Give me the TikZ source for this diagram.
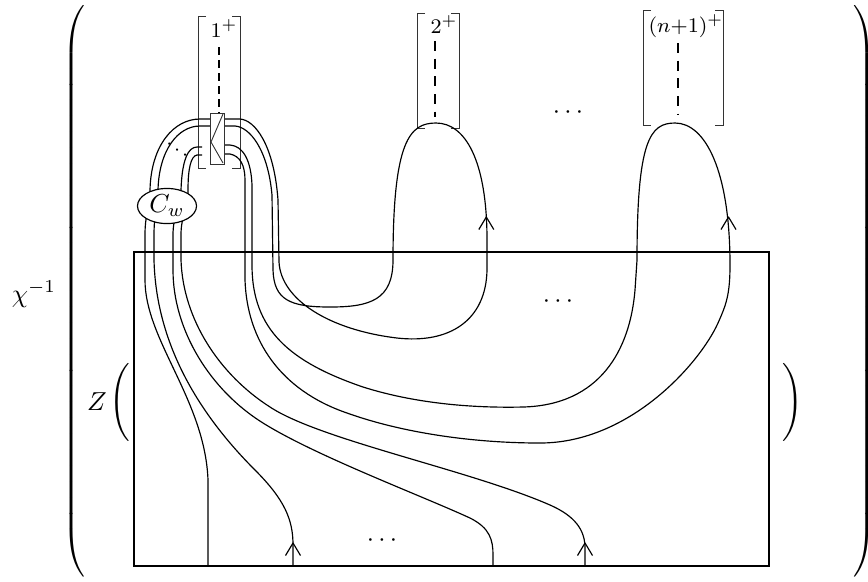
\documentclass[tikz,border=0pt]{standalone}
\usetikzlibrary{shapes.geometric}
\tikzset{
  strand/.style={line width=0.45pt, line join=round},
  frame/.style={line width=1.05pt},
  brkline/.style={line width=0.35pt, black!80},
  dsh/.style={line width=0.45pt, dash pattern=on 3.8pt off 3pt},
  dshsmall/.style={line width=0.45pt, dash pattern=on 3pt off 2pt},
  lbl/.style={font=\footnotesize, inner sep=0pt, anchor=base},
  dotsn/.style={inner sep=0pt, anchor=base},
  bigdelim/.style={inner sep=0pt},
}
\newcommand\mybrk[4]{%
  \draw[brkline] (#1+8,#3) -- (#1,#3) -- (#1,#4) -- (#1+8,#4);
  \draw[brkline] (#2-8,#3) -- (#2,#3) -- (#2,#4) -- (#2-8,#4);}
\newcommand\myarrow[1]{\draw[strand] (#1) ++(-7.5,12.5) -- (#1) -- ++(7.5,12.5);}
\newcommand\hugedelim[2]{\resizebox*{\width}{220pt}{$\nulldelimiterspace=0pt\delimitershortfall=0pt\delimiterfactor=1000\left#1\vcenter{\hrule height 214pt width 0pt}\right#2$}}
\begin{document}
\begin{tikzpicture}[x=0.3846pt,y=-0.3846pt]
\useasboundingbox (0,0) rectangle (868,581);

% big parentheses and outer labels
\node[bigdelim] (lpar) at (74,291.5) {\hugedelim{(}{.}};
\node[bigdelim] (rpar) at (865,291.5) {\hugedelim{.}{)}};
\node[inner sep=0pt, anchor=base] (chi) at (34,302) {$\chi^{-1}$};
\node[inner sep=0pt, anchor=base] (zz) at (97,410) {$Z$};
\node[bigdelim] (zl) at (120,402) {$\Bigg($};
\node[bigdelim] (zr) at (793,402) {$\Bigg)$};

% bracket boxes
\mybrk{198}{240}{16}{168}
\mybrk{417}{459}{13}{128}
\mybrk{643}{723}{10}{125}
\node[lbl] (l1) at (224,37) {$1^+$};
\node[lbl] (l2) at (444,33) {$2^+$};
\node[lbl] (l3) at (686,32) {$(n{+}1)^+$};
\coordinate (d1t) at (219,47); \coordinate (d1b) at (219,113);
\coordinate (d2t) at (435,41); \coordinate (d2b) at (435,117);
\coordinate (d3t) at (678,43); \coordinate (d3b) at (678,115);
\draw[dshsmall] (d1t) -- (d1b);
\draw[dsh] (d2t) -- (d2b);
\draw[dsh] (d3t) -- (d3b);

% left strands
\draw[strand] (211,119) -- (200,119) .. controls (174,119) and (151,145) .. (150,190)
  .. controls (149,210) and (145,215) .. (145,235) -- (145,280)
  .. controls (145,340) and (205,400) .. (208,480) -- (208,566);
\draw[strand] (211,126) -- (200,126) .. controls (178,126) and (159,150) .. (158,190)
  .. controls (157,210) and (154,215) .. (154,235) -- (154,260)
  .. controls (156,340) and (195,410) .. (255,470)
  .. controls (285,500) and (293,520) .. (293,545) -- (293,566);
\draw[strand] (202,147) -- (197,147) .. controls (188,147) and (182,160) .. (181,190)
  .. controls (180,210) and (173,215) .. (173,235) -- (173,270)
  .. controls (173,330) and (210,390) .. (263,423)
  .. controls (316,456) and (420,495) .. (470,518)
  .. controls (490,528) and (493,540) .. (493,555) -- (493,566);
\draw[strand] (202,155) -- (197,155) .. controls (191,156) and (188,168) .. (188,190)
  .. controls (188,210) and (181,215) .. (181,235) -- (181,260)
  .. controls (183,320) and (220,375) .. (270,407)
  .. controls (320,440) and (470,470) .. (550,505)
  .. controls (575,516) and (585,530) .. (585,548) -- (585,566);

% right outer strands with the 2+ cap
\draw[strand] (224,126) -- (235,126) .. controls (250,127) and (268,150) .. (272,195)
  -- (273,270) .. controls (274,300) and (290,307) .. (330,307)
  .. controls (370,307) and (393,300) .. (393,260)
  .. controls (393,140) and (410,123) .. (436,123)
  .. controls (465,123) and (487,160) .. (487,240) -- (487,270)
  .. controls (486,320) and (450,344) .. (397,338)
  .. controls (330,330) and (281,300) .. (279,262) -- (278,200)
  .. controls (274,145) and (255,120) .. (240,119) -- (224,119);

% right inner strands with the (n+1)+ cap
\draw[strand] (225,145) -- (230,145) .. controls (243,146) and (251,160) .. (252,185)
  -- (252,265) .. controls (252,330) and (290,362) .. (363,387)
  .. controls (420,405) and (480,408) .. (523,407)
  .. controls (600,405) and (630,350) .. (635,290) -- (637,260)
  .. controls (637,140) and (650,123) .. (675,123)
  .. controls (705,123) and (730,170) .. (730,265)
  .. controls (730,295) and (726,305) .. (718,323)
  .. controls (700,363) and (630,443) .. (540,443)
  .. controls (470,443) and (400,432) .. (347,413)
  .. controls (280,390) and (247,340) .. (245,280) -- (245,180)
  .. controls (245,165) and (240,156) .. (230,154) -- (225,154);

% arrowheads
\coordinate (a1) at (486.3,217);
\coordinate (a2) at (728.5,217);
\coordinate (a3) at (293,543);
\coordinate (a4) at (585,543);
\myarrow{a1} \myarrow{a2} \myarrow{a3} \myarrow{a4}

% coupon
\draw[brkline, fill=white] (210,113) rectangle (224,164);
\draw[brkline] (223,114) -- (211,142) -- (223,163);

% C_w
\node[ellipse, draw, fill=white, line width=0.45pt, minimum width=22.7pt, minimum height=13.5pt, inner sep=0pt] (cw) at (167,206) {$C_w$};

% dots
\node[rotate=-36, inner sep=0pt] (dd) at (177,150) {\footnotesize$\cdots$};
\node[dotsn] (dA) at (568,118.5) {$\cdots$};
\node[dotsn] (dB) at (558,307.5) {$\cdots$};
\node[dotsn] (dC) at (382,546.5) {$\cdots$};

% box Z
\draw[frame] (134,252) rectangle (769,566);
\end{tikzpicture}
\end{document}
